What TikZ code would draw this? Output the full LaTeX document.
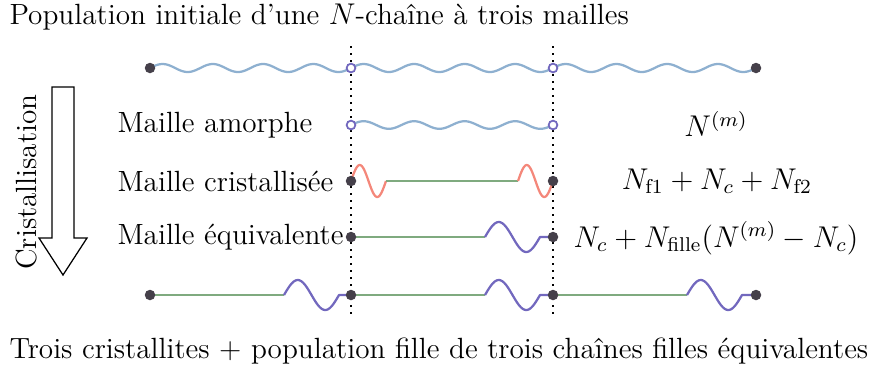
\documentclass[tikz,border=0pt]{standalone}
\begin{document}
\begin{tikzpicture}[x=0.4pt,y=-0.4pt,font=\fontsize{11.7}{14}\selectfont]
\definecolor{wblue}{HTML}{8EB0D0}
\definecolor{wred}{HTML}{F4877A}
\definecolor{wgreen}{HTML}{7FAA7F}
\definecolor{wpurp}{HTML}{7268BE}
\definecolor{dgray}{HTML}{45404A}
\tikzset{
  wv/.style={line width=0.9pt,line join=round},
  fdot/.style={circle,fill=dgray,inner sep=0pt,minimum size=4.2pt},
  odot/.style={circle,draw=wpurp,line width=0.7pt,fill=white,inner sep=0pt,minimum size=3.5pt},
  guide/.style={dotted,line width=0.8pt},
  lbl/.style={anchor=west,inner sep=0pt},
  eq/.style={inner sep=0pt}
}
\useasboundingbox (0,0) rectangle (878,369);
% guides
\coordinate (g1t) at (351,46); \coordinate (g1b) at (351,314);
\coordinate (g2t) at (553,46); \coordinate (g2b) at (553,314);
\draw[guide] (g1t) -- (g1b);
\draw[guide] (g2t) -- (g2b);
% titles
\node[anchor=west,inner sep=0pt] (title) at (9,17) {Population initiale d'une $N$-chaîne à trois mailles};
\node[anchor=west,inner sep=0pt] (bottom) at (9,351) {Trois cristallites + population fille de trois chaînes filles équivalentes};
% arrow
\draw[line width=0.5pt] (52,87) -- (74,87) -- (74,238) -- (87,238) -- (63,275) -- (39,238) -- (52,238) -- cycle;
\node[rotate=90,inner sep=0pt] (cris) at (27,182) {Cristallisation};
% top waves
\foreach \a/\b in {150/351,351/553,553/756}{
  \draw[wv,wblue] plot[domain=\a:\b,samples=120,smooth] (\x,{68-4*sin(1440*((\x-\a)/(\b-\a)))});
}
% amorphous
\draw[wv,wblue] plot[domain=351:553,samples=120,smooth] (\x,{125-3.8*sin(1440*((\x-351)/202))});
% crystallized
\draw[wv,wred] plot[domain=351:386,samples=40,smooth] (\x,{181-16*sin(360*((\x-351)/35))});
\draw[wv,wgreen] (386,181) -- (518,181);
\draw[wv,wred] plot[domain=518:553,samples=40,smooth] (\x,{181-16*sin(360*((\x-518)/35))});
% equivalent
\draw[wv,wgreen] (351,237) -- (485,237);
\draw[wv,wpurp] plot[domain=485:540,samples=50,smooth] (\x,{237-15*sin(360*((\x-485)/55))}) -- (553,237);
% bottom
\foreach \a in {150,351,553}{
  \draw[wv,wgreen] (\a,295) -- (\a+134,295);
  \draw[wv,wpurp] plot[domain=\a+134:\a+189,samples=50,smooth] (\x,{295-15*sin(360*((\x-\a-134)/55))}) -- (\a+203,295);
}
% dots
\node[fdot] (t0) at (150,68) {};
\node[odot] (t1) at (351,68) {};
\node[odot] (t2) at (553,68) {};
\node[fdot] (t3) at (756,68) {};
\node[odot] (a1) at (351,125) {};
\node[odot] (a2) at (553,125) {};
\node[fdot] (c1) at (351,181) {};
\node[fdot] (c2) at (553,181) {};
\node[fdot] (e1) at (351,237) {};
\node[fdot] (e2) at (553,237) {};
\node[fdot] (b0) at (150,295) {};
\node[fdot] (b1) at (351,295) {};
\node[fdot] (b2) at (553,295) {};
\node[fdot] (b3) at (756,295) {};
% labels
\node[lbl] (la) at (117,125) {Maille amorphe};
\node[lbl] (lc) at (117,181) {Maille cristallisée};
\node[lbl] (le) at (117,237) {Maille équivalente};
\node[eq] (ra) at (716,124) {$N^{(m)}$};
\node[eq] (rc) at (717,181) {$N_{\mathrm{f1}}+N_c+N_{\mathrm{f2}}$};
\node[eq] (re) at (716,238) {$N_c+N_{\mathrm{fille}}(N^{(m)}-N_c)$};
\end{tikzpicture}
\end{document}
